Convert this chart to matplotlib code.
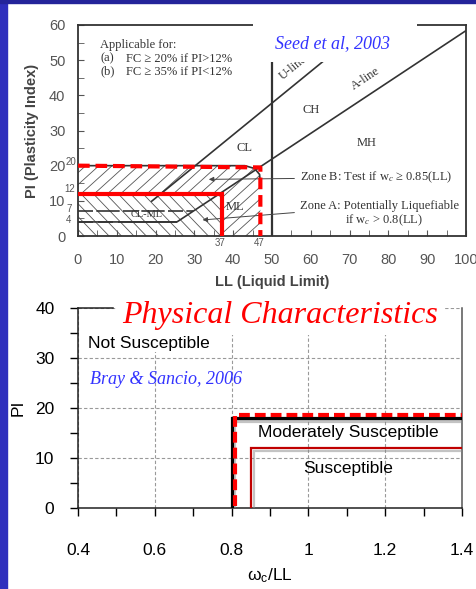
import numpy as np
import matplotlib
matplotlib.use("Agg")
import matplotlib.pyplot as plt
from matplotlib.patches import Polygon, Rectangle
from matplotlib.collections import LineCollection
import matplotlib.patheffects as pe

plt.rcParams['font.family'] = ['Liberation Sans', 'DejaVu Sans']
plt.rcParams['mathtext.fontset'] = 'custom'
plt.rcParams['mathtext.rm'] = 'Liberation Serif'
plt.rcParams['mathtext.it'] = 'Liberation Serif:italic'

# --- plasticity chart (Seed et al, 2003) ---
ll_ticks = [0, 10, 20, 30, 40, 50, 60, 70, 80, 90, 100]
pi_ticks = [0, 10, 20, 30, 40, 50, 60]
a_line_ll = [0, 25.5, 100]
a_line_pi = [4, 4, 58.4]
cl_ml_ll = [0, 29.6]
cl_ml_pi = [7, 7]
u_line_ll = [19, 75]
u_line_pi = [9.9, 60.3]
zone_a_ll = [0, 37, 37]
zone_a_pi = [12, 12, 0]
zone_b_ll = [0, 47, 47]
zone_b_pi = [20, 19.5, 0]
zone_b_edge_ll = [0, 43, 45.5, 46.8, 47]
zone_b_edge_pi = [20, 20, 19.2, 17.5, 15]

# --- susceptibility chart (Bray & Sancio, 2006) ---
ratio_ticks = [0.4, 0.6, 0.8, 1.0, 1.2, 1.4]
ratio_labels = ['0.4', '0.6', '0.8', '1', '1.2', '1.4']
pi2_ticks = [0, 10, 20, 30, 40]
moderate_ratio = [0.8, 0.8, 1.4]
moderate_pi = [0, 18, 18]
suscept_ratio = [0.85, 0.85, 1.4]
suscept_pi = [0, 12, 12]
trace_ratio = [0.81, 0.81, 1.4]
trace_pi = [0.5, 18.7, 18.7]

W, H = 477, 589
fig = plt.figure(figsize=(W / 100, H / 100), dpi=100)
fig.patch.set_facecolor('white')
blue = '#2f2fbd'
fig.patches.append(Rectangle((0, 0), 7 / W, 1, transform=fig.transFigure, color=blue, zorder=0))
fig.patches.append(Rectangle((0, 1 - 3 / H), 1, 3 / H, transform=fig.transFigure, color='#24249a', zorder=0))


def ax_rect(x0, y0, x1, y1):
    return [x0 / W, 1 - y1 / H, (x1 - x0) / W, (y1 - y0) / H]


def hatch(ax, xs, ys, slope, step, color='#555555'):
    poly = Polygon(np.column_stack([xs, ys]), closed=True, fill=False, lw=0)
    ax.add_patch(poly)
    segs = []
    for c in np.arange(-120, 160, step):
        x = np.array([c - 60, c + 60])
        segs.append(np.column_stack([x, slope * (x - c)]))
    lc = LineCollection(segs, colors=color, linewidths=0.6, zorder=1.5)
    ax.add_collection(lc)
    lc.set_clip_path(poly)


# ================= top chart =================
ax1 = fig.add_axes(ax_rect(78, 25, 466, 236))
ax1.set_xlim(0, 100)
ax1.set_ylim(0, 60)
for s in ax1.spines.values():
    s.set_color('#333333')
    s.set_linewidth(1.3)
ax1.set_xticks(ll_ticks)
ax1.set_yticks(pi_ticks)
ax1.set_xticks(np.arange(5, 100, 10), minor=True)
ax1.set_yticks(np.arange(5, 60, 10), minor=True)
ax1.tick_params(which='both', direction='in', length=4, color='#555555', top=False, right=False)
ax1.tick_params(axis='x', labelsize=10.5, labelcolor='#555555', pad=12)
ax1.tick_params(axis='y', labelsize=10.5, labelcolor='#555555', pad=9)
ax1.set_xlabel('LL (Liquid Limit)', fontsize=10.5, fontweight='bold', color='#444444', labelpad=6)
ax1.set_ylabel('PI (Plasticity Index)', fontsize=10.5, fontweight='bold', color='#444444', labelpad=7)

# hatched zones
hatch(ax1, [0, 37, 37, 0], [0, 0, 12, 12], -1.15, 3.2)
hatch(ax1, zone_b_edge_ll + [47, 37, 37, 0], zone_b_edge_pi + [0, 0, 12, 12], 1.0, 3.4)

ln = dict(color='#333333', lw=1.2)
ax1.plot(a_line_ll, a_line_pi, **ln)
ax1.plot(cl_ml_ll, cl_ml_pi, dashes=(9, 2, 14, 2), **ln)
ax1.plot([0, 25.5], [4, 4], dashes=(9, 3, 9, 3, 40, 1), **ln)
ax1.plot(u_line_ll, u_line_pi, **ln)
ax1.plot([50, 50], [0, 60], color='#333333', lw=1.6)
ax1.plot(zone_b_edge_ll, zone_b_edge_pi, **ln)

serif = 'Liberation Serif'
ax1.text(74, 44.8, 'A-line', rotation=33.5, family=serif, fontsize=9, color='#333333', ha='center', va='center')
ax1.text(55.5, 47.8, 'U-line', rotation=39, family=serif, fontsize=9, color='#333333', ha='center', va='center')
for lab, x, y, fs in [('CL', 43, 25, 9), ('CH', 60, 35.8, 9), ('MH', 74.5, 26.4, 9),
                      ('ML', 40.5, 8.2, 9), ('CL-ML', 17.8, 6.1, 7.5)]:
    ax1.text(x, y, lab, family=serif, fontsize=fs, color='#333333', ha='center', va='center')

ax1.text(5.7, 54.3, 'Applicable for:', family=serif, fontsize=9, color='#333333', va='center')
ax1.text(5.7, 50.4, '(a)', family=serif, fontsize=9, color='#333333', va='center')
ax1.text(12.5, 50.4, 'FC ≥ 20% if PI>12%', family=serif, fontsize=9, color='#333333', va='center')
ax1.text(5.7, 46.7, '(b)', family=serif, fontsize=9, color='#333333', va='center')
ax1.text(12.5, 46.7, 'FC ≥ 35% if PI<12%', family=serif, fontsize=9, color='#333333', va='center')

ax1.annotate('Zone B: Test if w$_c$ ≥ 0.85(LL)', xy=(33, 16.1), xytext=(57.2, 16.6),
             family=serif, fontsize=9, color='#333333', va='center',
             arrowprops=dict(arrowstyle='-|>', color='#444444', lw=0.7, mutation_scale=7))
ax1.annotate('Zone A: Potentially Liquefiable', xy=(31.4, 4.5), xytext=(57.2, 8.6),
             family=serif, fontsize=9, color='#333333', va='center',
             arrowprops=dict(arrowstyle='-|>', color='#444444', lw=0.7, mutation_scale=7))
ax1.text(68.8, 4.4, 'if w$_c$ > 0.8(LL)', family=serif, fontsize=9, color='#333333', va='center')

# red zone outlines
ax1.plot(zone_a_ll, zone_a_pi, color='#ff0000', lw=3, solid_joinstyle='miter', zorder=4)
ax1.plot(zone_b_ll, zone_b_pi, color='#ff0000', lw=3, dashes=(2.8, 1.4), zorder=4)

# small boundary values
small = dict(fontsize=7, color='#555555', ha='center', va='center', clip_on=False)
ax1.text(-1.7, 21.0, '20', **small)
ax1.text(-2.2, 13.4, '12', **small)
ax1.text(-2.4, 7.8, '7', **small)
ax1.text(-2.4, 4.6, '4', **small)
ax1.text(36.5, -2.0, '37', **small)
ax1.text(46.6, -2.0, '47', **small)

# citation box
ax1.add_patch(Rectangle((45, 49.4), 42.5, 12.5, facecolor='white', edgecolor='none', clip_on=False, zorder=5))
ax1.text(65.5, 54.6, 'Seed et al, 2003', family=serif, style='italic', fontsize=13,
         color='#3333ff', ha='center', va='center', zorder=6)

# ================= bottom chart =================
ax2 = fig.add_axes(ax_rect(78, 308, 462, 508))
ax2.set_xlim(0.4, 1.4)
ax2.set_ylim(0, 40)
ax2.set_xticks(ratio_ticks)
ax2.set_xticklabels(ratio_labels)
ax2.set_yticks(pi2_ticks)
ax2.set_xticks(np.arange(0.5, 1.4, 0.2), minor=True)
ax2.set_yticks(np.arange(5, 40, 10), minor=True)
ax2.tick_params(which='both', direction='out', length=6, width=1, color='black', top=False, right=False)
ax2.tick_params(axis='x', labelsize=12.5, pad=19)
ax2.tick_params(axis='y', labelsize=12.5, pad=11)
for s in ax2.spines.values():
    s.set_color('#222222')
    s.set_linewidth(1.1)
ax2.spines['right'].set_color('#555555')
ax2.spines['top'].set_bounds(0.4, 0.49)
ax2.grid(True, which='major', linestyle=(0, (3, 2)), color='#999999', lw=0.8)

shadow = [pe.SimpleLineShadow(offset=(2, -2), shadow_color='#888888', alpha=0.5), pe.Normal()]
ax2.plot(moderate_ratio, moderate_pi, color='black', lw=2.3, solid_joinstyle='miter',
         path_effects=shadow, zorder=3)
ax2.plot(suscept_ratio, suscept_pi, color='#c00000', lw=1.6, solid_joinstyle='miter',
         path_effects=shadow, zorder=3)
ax2.plot(trace_ratio, trace_pi, color='#ff0000', lw=3, dashes=(2.6, 1.2), zorder=4)

ax2.text(0.425, 33, 'Not Susceptible', fontsize=12.5, color='black', va='center',
         bbox=dict(facecolor='white', edgecolor='none', pad=1))
ax2.text(0.43, 25.6, 'Bray & Sancio, 2006', family=serif, style='italic', fontsize=13,
         color='#3333ff', va='center')
ax2.text(1.103, 15, 'Moderately Susceptible', fontsize=12.5, color='black', ha='center', va='center')
ax2.text(1.103, 8, 'Susceptible', fontsize=12.5, color='black', ha='center', va='center')
ax2.text(0.926, 38.6, 'Physical Characteristics', family=serif, style='italic', fontsize=23,
         color='#ff0000', ha='center', va='center', zorder=6,
         bbox=dict(facecolor='white', edgecolor='none', pad=4))

fig.text(18 / W, 1 - 408 / H, 'PI', rotation=90, fontsize=12.5, ha='center', va='center')
fig.text(270 / W, 1 - 576 / H, 'ω$_\\mathregular{c}$/LL', fontsize=12.5, ha='center', va='center')

fig.savefig('out.png', dpi=100)
